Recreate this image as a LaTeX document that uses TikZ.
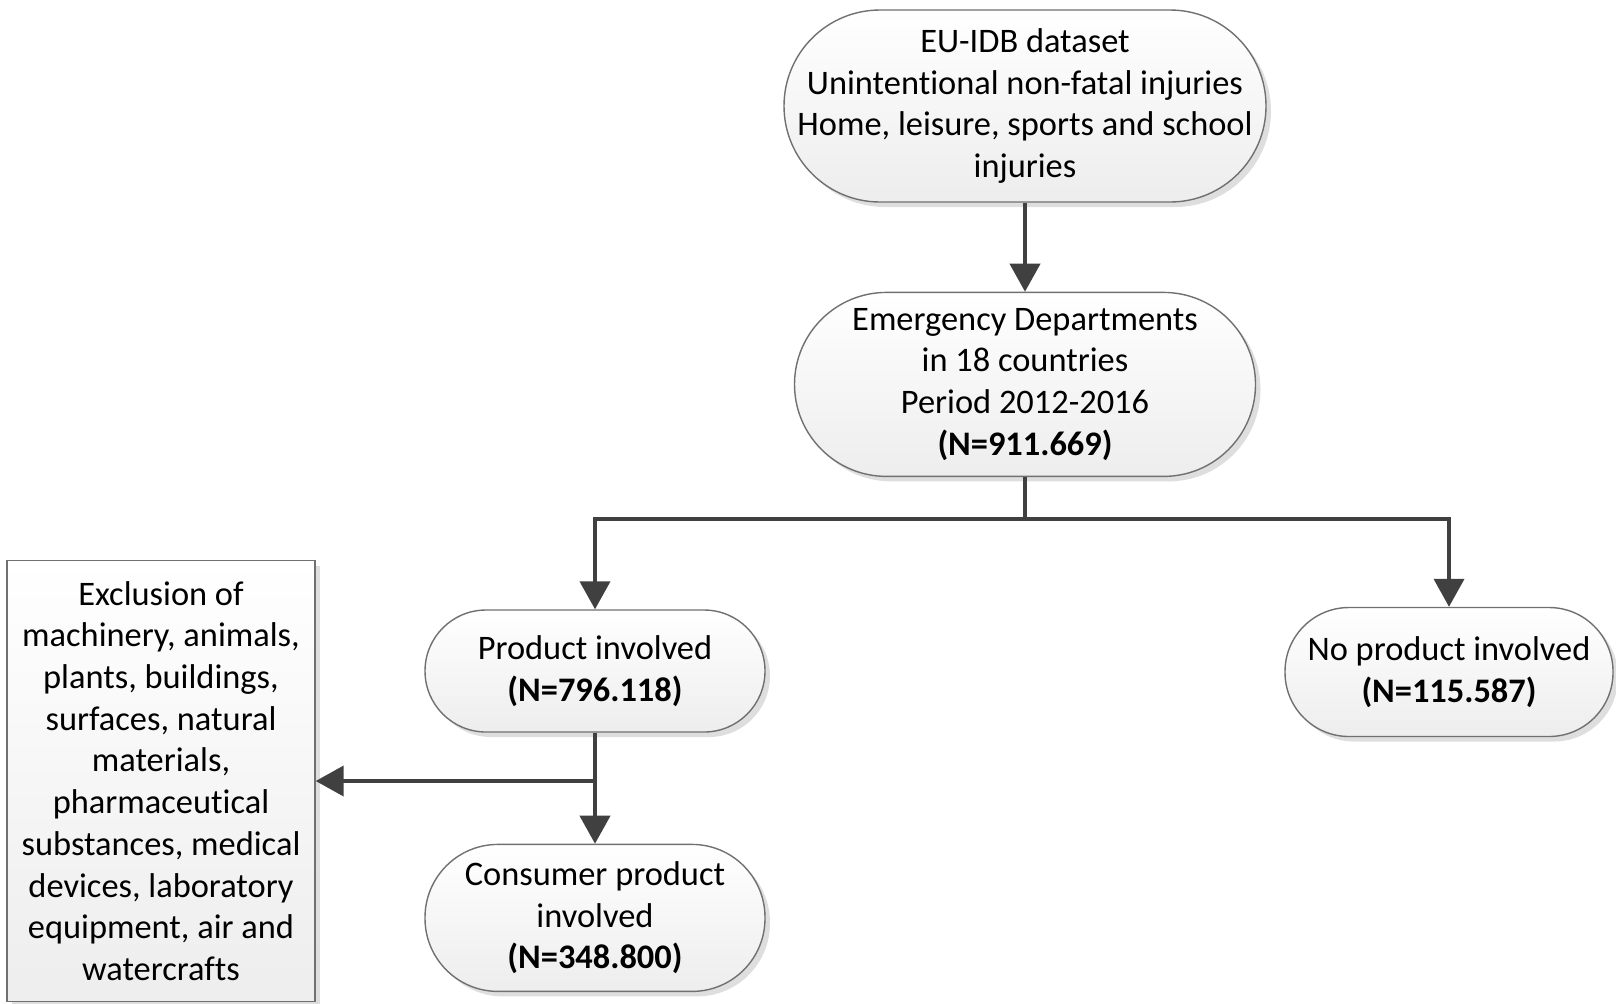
\documentclass[tikz,border=0pt]{standalone}
\usepackage{fontspec}
\setmainfont{Carlito}[Ligatures=NoCommon]
\usetikzlibrary{positioning, arrows.meta, shadows}
\definecolor{Border Gray}{HTML}{707070}
\definecolor{Arrow Gray}{HTML}{404040}
\tikzset{
	font = \fontsize{17.2}{20.85}\selectfont,
	box/.style={
		draw=Border Gray,
		line width=.7pt,
		top color=white,
		bottom color=black!7,
		align=center,
		inner sep=0pt,
		drop shadow={shadow xshift=2.5pt, shadow yshift=-2.5pt, opacity=.13, fill=black}
	},
	terminal/.style={
		box,
		rounded corners=#1
	},
	flow/.style={
		draw=Arrow Gray,
		line width=2pt,
		-{Triangle[width=15pt,length=14pt]}
	},
	link/.style={
		draw=Arrow Gray,
		line width=2pt
	}
}

\begin{document}
\begin{tikzpicture}[x=1pt, y=1pt]
		\useasboundingbox (0,0) rectangle (808,-501.5);

		\node[terminal=48pt, minimum width=241pt, minimum height=96pt] (data) at (512.5,-53) {EU-IDB dataset\\Unintentional non-fatal injuries\\Home, leisure, sports and school\\injuries};
		\node[terminal=46pt, minimum width=230.5pt, minimum height=92pt, below=44.5pt of data] (ed) {Emergency Departments\\in 18 countries\\Period 2012-2016\\\textbf{(N=911.669)}};

		\node[terminal=30.5pt, minimum width=170pt, minimum height=61pt] (prod) at (297.5,-335.5) {Product involved\\\textbf{(N=796.118)}};
		\node[terminal=32pt, minimum width=164pt, minimum height=64.5pt] (noprod) at (724.5,-336) {No product involved\\\textbf{(N=115.587)}};
		\node[terminal=36.5pt, minimum width=170pt, minimum height=73.5pt, below=55.5pt of prod] (cons) {Consumer product\\involved\\\textbf{(N=348.800)}};

		\node[box, minimum width=154pt, minimum height=220.5pt] (excl) at (80.5,-390.5) {Exclusion of\\machinery, animals,\\plants, buildings,\\surfaces, natural\\materials,\\pharmaceutical\\substances, medical\\devices, laboratory\\equipment, air and\\watercrafts};

		\draw[flow] (data) to (ed);

		\coordinate[below=21pt of ed.south] (split);
		\draw[link] (ed.south) to (split);
		\draw[flow] (split) -| (prod.north);
		\draw[flow] (split) -| (noprod.north);

		\draw[flow] (prod) to (cons);
		\coordinate (branch) at (prod.south |- excl.east);
		\draw[flow] (branch) to (excl.east);
	\end{tikzpicture}
\end{document}
